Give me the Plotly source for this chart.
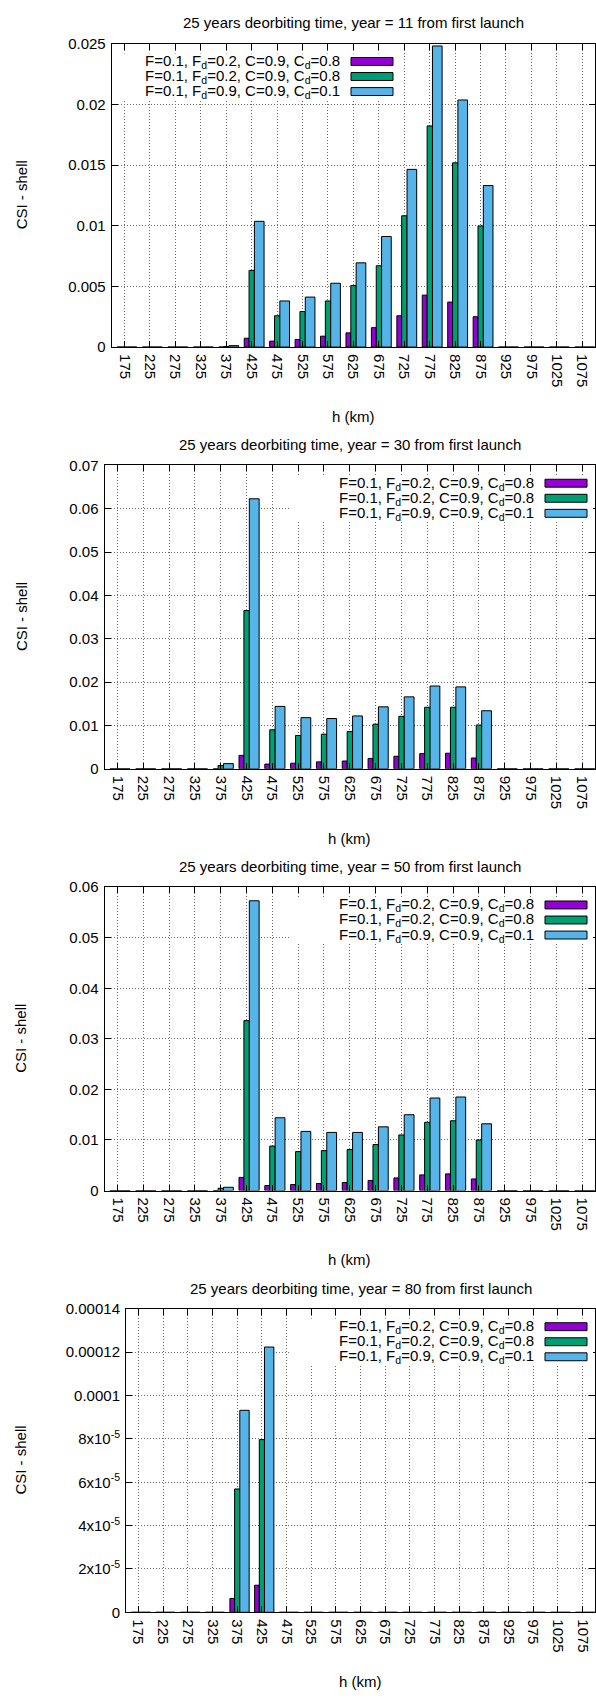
import plotly.graph_objects as go

# Altitude shells (km)
heights = [175, 225, 275, 325, 375, 425, 475, 525, 575, 625,
           675, 725, 775, 825, 875, 925, 975, 1025, 1075]
h_tick_text = [str(h) for h in heights]

series_names = [
    "F=0.1, F<sub>d</sub>=0.2, C=0.9, C<sub>d</sub>=0.8",
    "F=0.1, F<sub>d</sub>=0.2, C=0.9, C<sub>d</sub>=0.8",
    "F=0.1, F<sub>d</sub>=0.9, C=0.9, C<sub>d</sub>=0.1",
]
series_colors = ["#9400D3", "#009E73", "#56B4E9"]

years = [11, 30, 50, 80]

# CSI per shell, year 11
csi_y11_a = [0, 0, 0, 0, 0, 0.00073, 0.00049, 0.00062, 0.0009, 0.00117,
             0.0016, 0.00258, 0.00428, 0.00371, 0.0025, 0, 0, 0, 0]
csi_y11_b = [0, 0, 0, 0, 0.00005, 0.00632, 0.00258, 0.00293, 0.0038, 0.00507,
             0.0067, 0.01082, 0.01822, 0.01518, 0.00998, 0, 0, 0, 0]
csi_y11_c = [0, 0, 0, 0, 0.00012, 0.01036, 0.0038, 0.00412, 0.00526, 0.00694,
             0.00911, 0.01464, 0.02481, 0.02036, 0.01331, 0, 0, 0, 0]

# year 30
csi_y30_a = [0, 0, 0, 0, 0, 0.0031, 0.0011, 0.0013, 0.0016, 0.0018,
             0.0024, 0.0029, 0.0035, 0.0036, 0.0025, 0, 0, 0, 0]
csi_y30_b = [0, 0, 0, 0, 0.00076, 0.0365, 0.009, 0.0077, 0.008, 0.0086,
             0.0103, 0.0121, 0.0142, 0.0142, 0.0101, 0, 0, 0, 0]
csi_y30_c = [0, 0, 0, 0, 0.0012, 0.0623, 0.0144, 0.0118, 0.0116, 0.0122,
             0.0143, 0.0166, 0.0191, 0.0189, 0.0134, 0, 0, 0, 0]

# year 50
csi_y50_a = [0, 0, 0, 0, 0, 0.0026, 0.001, 0.0012, 0.0014, 0.0016,
             0.002, 0.0025, 0.0031, 0.0033, 0.0023, 0, 0, 0, 0]
csi_y50_b = [0, 0, 0, 0, 0.00046, 0.0336, 0.0088, 0.0077, 0.0079, 0.0081,
             0.0091, 0.011, 0.0135, 0.0138, 0.01, 0, 0, 0, 0]
csi_y50_c = [0, 0, 0, 0, 0.00065, 0.0573, 0.0144, 0.0117, 0.0115, 0.0115,
             0.0126, 0.015, 0.0183, 0.0185, 0.0132, 0, 0, 0, 0]

# year 80
csi_y80_a = [0, 0, 0, 0, 0.0000064, 0.0000125, 0, 0, 0, 0,
             0, 0, 0, 0, 0, 0, 0, 0, 0]
csi_y80_b = [0, 0, 0, 0, 0.0000569, 0.0000797, 0, 0, 0, 0,
             0, 0, 0, 0, 0, 0, 0, 0, 0]
csi_y80_c = [0, 0, 0, 0, 0.0000932, 0.0001224, 0, 0, 0, 0,
             0, 0, 0, 0, 0, 0, 0, 0, 0]

panel_series = [
    (csi_y11_a, csi_y11_b, csi_y11_c),
    (csi_y30_a, csi_y30_b, csi_y30_c),
    (csi_y50_a, csi_y50_b, csi_y50_c),
    (csi_y80_a, csi_y80_b, csi_y80_c),
]

# y ticks per panel
y_ticks_11 = [0, 0.005, 0.01, 0.015, 0.02, 0.025]
y_text_11 = ["0", "0.005", "0.01", "0.015", "0.02", "0.025"]
y_ticks_30 = [0, 0.01, 0.02, 0.03, 0.04, 0.05, 0.06, 0.07]
y_text_30 = ["0", "0.01", "0.02", "0.03", "0.04", "0.05", "0.06", "0.07"]
y_ticks_50 = [0, 0.01, 0.02, 0.03, 0.04, 0.05, 0.06]
y_text_50 = ["0", "0.01", "0.02", "0.03", "0.04", "0.05", "0.06"]
y_ticks_80 = [0, 0.00002, 0.00004, 0.00006, 0.00008, 0.0001, 0.00012, 0.00014]
y_text_80 = ["0", "2x10<sup>-5</sup>", "4x10<sup>-5</sup>", "6x10<sup>-5</sup>",
             "8x10<sup>-5</sup>", "0.0001", "0.00012", "0.00014"]
panel_yticks = [(y_ticks_11, y_text_11), (y_ticks_30, y_text_30),
                (y_ticks_50, y_text_50), (y_ticks_80, y_text_80)]

# ---- layout geometry (pixels) ----
W, H = 596, 1700
FONT = "Liberation Sans, Arial, Helvetica, sans-serif"
FS = 15
plot_left = [111.7, 104.5, 104.5, 126.0]
plot_right = 595.0
plot_top = [35.0, 461.0, 887.0, 1313.0]
plot_h = 306.5

# bar placement inside a cluster, as fractions of the shell spacing
bar_offsets = [-0.29, -0.10, 0.11]
bar_widths = [0.19, 0.21, 0.38]
spacing = 50


def px(x):
    return x / W


def py(y):
    return 1 - y / H


fig = go.Figure()
annotations = []
shapes = []

for i in range(4):
    n = "" if i == 0 else str(i + 1)
    xa, ya = "x" + n, "y" + n
    for k in range(3):
        fig.add_trace(go.Bar(
            x=heights, y=panel_series[i][k],
            offset=bar_offsets[k] * spacing, width=bar_widths[k] * spacing,
            marker=dict(color=series_colors[k], line=dict(color="black", width=1)),
            xaxis=xa, yaxis=ya, showlegend=False, name=series_names[k],
        ))
    top = plot_top[i]
    bottom = top + plot_h
    left = plot_left[i]
    yt, ytxt = panel_yticks[i]
    common = dict(
        ticks="inside", ticklen=6, tickwidth=1, tickcolor="black",
        showline=True, linecolor="black", linewidth=1, mirror="ticks",
        showgrid=True, gridcolor="#6e6e6e", gridwidth=1, griddash="1px,2px",
        zeroline=False, tickfont=dict(family=FONT, size=FS, color="black"),
    )
    fig.layout["xaxis" + n] = dict(
        domain=[px(left), px(plot_right)], range=[150, 1100], anchor=ya,
        tickmode="array", tickvals=heights, ticktext=h_tick_text, tickangle=90,
        ticklabelstandoff=3, **common)
    fig.layout["yaxis" + n] = dict(
        domain=[py(bottom), py(top)], range=[0, yt[-1]], anchor=xa,
        tickmode="array", tickvals=yt, ticktext=ytxt, ticklabelstandoff=2,
        **common)

    # panel title
    cx = (left + plot_right) / 2
    annotations.append(dict(
        text=f"25 years deorbiting time, year = {years[i]} from first launch",
        x=px(cx), y=py(top - 21), xref="paper", yref="paper",
        xanchor="center", yanchor="middle", showarrow=False,
        font=dict(family=FONT, size=FS, color="black")))
    # axis titles
    annotations.append(dict(
        text="CSI - shell", x=px(21), y=py((top + bottom) / 2),
        xref="paper", yref="paper", textangle=-90, xanchor="center",
        yanchor="middle", showarrow=False,
        font=dict(family=FONT, size=FS, color="black")))
    annotations.append(dict(
        text="h (km)", x=px(cx), y=py(bottom + 70), xref="paper", yref="paper",
        xanchor="center", yanchor="middle", showarrow=False,
        font=dict(family=FONT, size=FS, color="black")))

    # key: opaque box, right-justified labels, swatches on the right
    if i == 0:
        box = (113, 398)
        text_right, sw0, sw1 = 342, 351, 393
    else:
        box = (291, 593)
        text_right, sw0, sw1 = 536, 545, 587
    shapes.append(dict(type="rect", xref="paper", yref="paper",
                       x0=px(box[0]), x1=px(box[1]),
                       y0=py(top + 10), y1=py(top + 56),
                       fillcolor="white", line=dict(width=0), layer="above"))
    for k in range(3):
        ry = top + 18 + 15.2 * k
        annotations.append(dict(
            text=series_names[k], x=px(text_right), y=py(ry),
            xref="paper", yref="paper", xanchor="right", yanchor="middle",
            showarrow=False, font=dict(family=FONT, size=FS, color="black")))
        shapes.append(dict(type="rect", xref="paper", yref="paper",
                           x0=px(sw0), x1=px(sw1), y0=py(ry + 4), y1=py(ry - 4),
                           fillcolor=series_colors[k],
                           line=dict(color="black", width=1), layer="above"))

fig.update_layout(
    width=W, height=H, margin=dict(l=0, r=0, t=0, b=0),
    paper_bgcolor="white", plot_bgcolor="white",
    barmode="overlay", showlegend=False,
    annotations=annotations, shapes=shapes,
    font=dict(family=FONT, size=FS, color="black"),
)

fig.write_html("out.html")
